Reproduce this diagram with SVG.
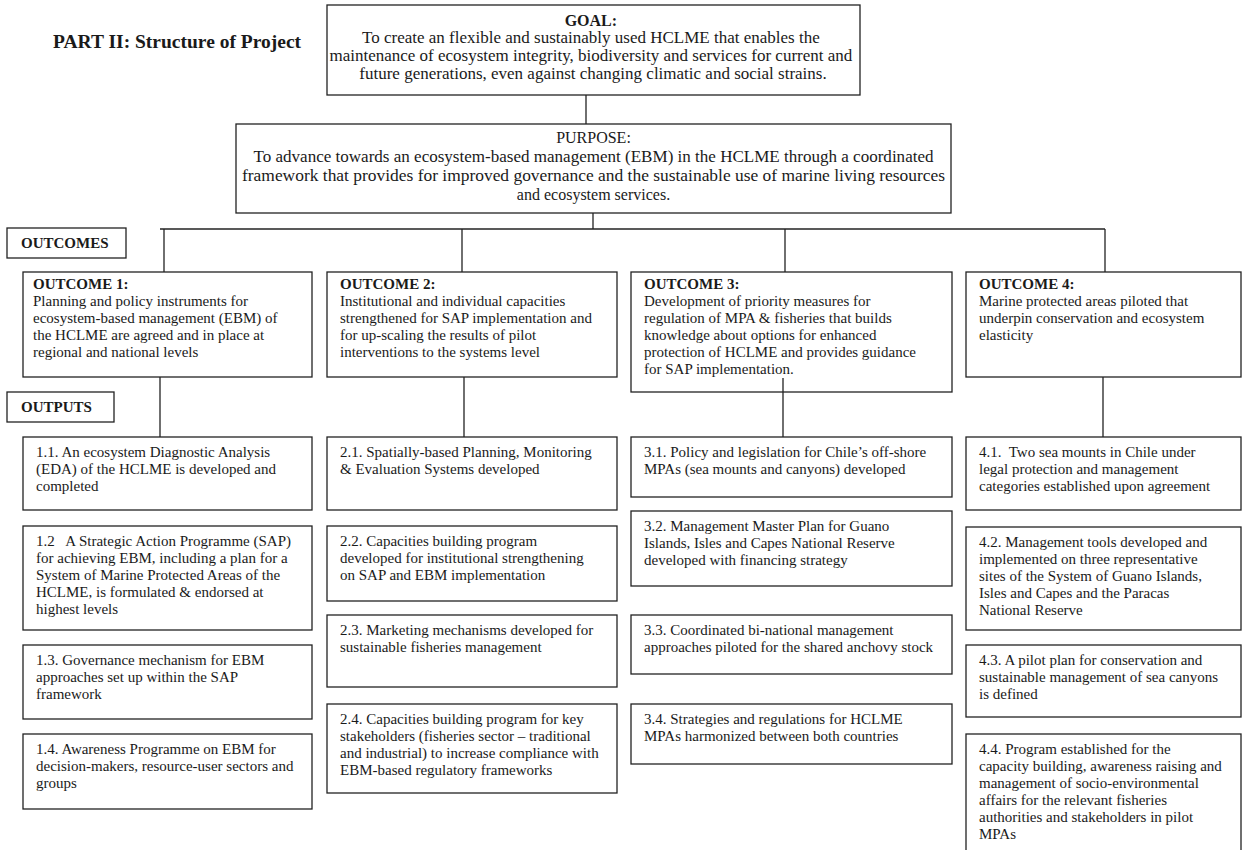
<svg xmlns="http://www.w3.org/2000/svg" width="1248" height="850" viewBox="0 0 1248 850">
<style>
  rect.box { fill: #ffffff; stroke: #222; stroke-width: 1.3; }
  .conn line { stroke: #222; stroke-width: 1.3; }
  text { font-family: "Liberation Serif", "Times New Roman", serif; fill: #1a1a1a; }
  .t { font-size: 15px; }
  .b { font-weight: bold; }
  .title { font-size: 19.5px; font-weight: bold; }
</style>
<rect width="1248" height="850" fill="#ffffff"/>

<text class="title" x="53" y="48">PART II: Structure of Project</text>

<g id="goal">
  <rect class="box" x="327" y="5" width="533" height="90"/>
  <text text-anchor="middle" font-size="17">
    <tspan class="b" x="593" y="26" font-size="16">GOAL:</tspan>
    <tspan x="593" y="43">To create an flexible and sustainably used HCLME that enables the</tspan>
    <tspan x="593" y="61">maintenance of ecosystem integrity, biodiversity and services for current and</tspan>
    <tspan x="593" y="79">future generations, even against changing climatic and social strains.</tspan>
  </text>
</g>

<g id="purpose">
  <rect class="box" x="236" y="124" width="715" height="89"/>
  <text text-anchor="middle" font-size="16">
    <tspan x="593.5" y="143">PURPOSE:</tspan>
  </text>
  <text text-anchor="middle" font-size="16" x="593.5" y="162" textLength="680" lengthAdjust="spacingAndGlyphs">To advance towards an ecosystem-based management (EBM) in the HCLME through a coordinated</text>
  <text text-anchor="middle" font-size="16" x="593.5" y="181" textLength="703" lengthAdjust="spacingAndGlyphs">framework that provides for improved governance and the sustainable use of marine living resources</text>
  <text text-anchor="middle" font-size="16" x="593.5" y="200">and ecosystem services.</text>
</g>

<g id="outcomes-label">
  <rect class="box" x="7" y="228" width="119" height="30"/>
  <text class="t b" x="21" y="248">OUTCOMES</text>
</g>

<g id="outputs-label">
  <rect class="box" x="7" y="392" width="107" height="30"/>
  <text class="t b" x="21" y="412">OUTPUTS</text>
</g>

<g id="outcome1">
  <rect class="box" x="23" y="272" width="289" height="105"/>
  <text class="t">
    <tspan class="b" x="33" y="289">OUTCOME 1:</tspan>
    <tspan x="33" y="306">Planning and policy instruments for</tspan>
    <tspan x="33" y="323">ecosystem-based management (EBM) of</tspan>
    <tspan x="33" y="340">the HCLME are agreed and in place at</tspan>
    <tspan x="33" y="357">regional and national levels</tspan>
  </text>
</g>

<g id="outcome2">
  <rect class="box" x="327" y="272" width="290" height="105"/>
  <text class="t">
    <tspan class="b" x="340" y="289">OUTCOME 2:</tspan>
    <tspan x="340" y="306">Institutional and individual capacities</tspan>
    <tspan x="340" y="323">strengthened for SAP implementation and</tspan>
    <tspan x="340" y="340">for up-scaling the results of pilot</tspan>
    <tspan x="340" y="357">interventions to the systems level</tspan>
  </text>
</g>

<g id="outcome3">
  <rect class="box" x="631" y="272" width="321" height="120"/>
  <text class="t">
    <tspan class="b" x="644" y="289">OUTCOME 3:</tspan>
    <tspan x="644" y="306">Development of priority measures for</tspan>
    <tspan x="644" y="323">regulation of MPA &amp; fisheries that builds</tspan>
    <tspan x="644" y="340">knowledge about options for enhanced</tspan>
    <tspan x="644" y="357">protection of HCLME and provides guidance</tspan>
    <tspan x="644" y="374">for SAP implementation.</tspan>
  </text>
</g>

<g id="outcome4">
  <rect class="box" x="966" y="272" width="275" height="105"/>
  <text class="t">
    <tspan class="b" x="979" y="289">OUTCOME 4:</tspan>
    <tspan x="979" y="306">Marine protected areas piloted that</tspan>
    <tspan x="979" y="323">underpin conservation and ecosystem</tspan>
    <tspan x="979" y="340">elasticity</tspan>
  </text>
</g>

<g id="output1-1">
  <rect class="box" x="23" y="437" width="289" height="73"/>
  <text class="t">
    <tspan x="36" y="457">1.1. An ecosystem Diagnostic Analysis</tspan>
    <tspan x="36" y="474">(EDA) of the HCLME is developed and</tspan>
    <tspan x="36" y="491">completed</tspan>
  </text>
</g>
<g id="output1-2">
  <rect class="box" x="23" y="526" width="289" height="104"/>
  <text class="t" xml:space="preserve"><tspan x="36" y="546">1.2   A Strategic Action Programme (SAP)</tspan><tspan x="36" y="563">for achieving EBM, including a plan for a</tspan><tspan x="36" y="580">System of Marine Protected Areas of the</tspan><tspan x="36" y="597">HCLME, is formulated &amp; endorsed at</tspan><tspan x="36" y="614">highest levels</tspan></text>
</g>
<g id="output1-3">
  <rect class="box" x="23" y="645" width="289" height="74"/>
  <text class="t">
    <tspan x="36" y="665">1.3. Governance mechanism for EBM</tspan>
    <tspan x="36" y="682">approaches set up within the SAP</tspan>
    <tspan x="36" y="699">framework</tspan>
  </text>
</g>
<g id="output1-4">
  <rect class="box" x="23" y="734" width="289" height="75"/>
  <text class="t">
    <tspan x="36" y="754">1.4. Awareness Programme on EBM for</tspan>
    <tspan x="36" y="771">decision-makers, resource-user sectors and</tspan>
    <tspan x="36" y="788">groups</tspan>
  </text>
</g>

<g id="output2-1">
  <rect class="box" x="327" y="437" width="290" height="73"/>
  <text class="t">
    <tspan x="340" y="457">2.1. Spatially-based Planning, Monitoring</tspan>
    <tspan x="340" y="474">&amp; Evaluation Systems developed</tspan>
  </text>
</g>
<g id="output2-2">
  <rect class="box" x="327" y="526" width="290" height="75"/>
  <text class="t">
    <tspan x="340" y="546">2.2. Capacities building program</tspan>
    <tspan x="340" y="563">developed for institutional strengthening</tspan>
    <tspan x="340" y="580">on SAP and EBM implementation</tspan>
  </text>
</g>
<g id="output2-3">
  <rect class="box" x="327" y="615" width="290" height="72"/>
  <text class="t">
    <tspan x="340" y="635">2.3. Marketing mechanisms developed for</tspan>
    <tspan x="340" y="652">sustainable fisheries management</tspan>
  </text>
</g>
<g id="output2-4">
  <rect class="box" x="327" y="704" width="290" height="89"/>
  <text class="t">
    <tspan x="340" y="724">2.4. Capacities building program for key</tspan>
    <tspan x="340" y="741">stakeholders (fisheries sector – traditional</tspan>
    <tspan x="340" y="758">and industrial) to increase compliance with</tspan>
    <tspan x="340" y="775">EBM-based regulatory frameworks</tspan>
  </text>
</g>

<g id="output3-1">
  <rect class="box" x="631" y="437" width="321" height="60"/>
  <text class="t">
    <tspan x="644" y="457">3.1. Policy and legislation for Chile’s off-shore</tspan>
    <tspan x="644" y="474">MPAs (sea mounts and canyons) developed</tspan>
  </text>
</g>
<g id="output3-2">
  <rect class="box" x="631" y="511" width="321" height="75"/>
  <text class="t">
    <tspan x="644" y="531">3.2. Management Master Plan for Guano</tspan>
    <tspan x="644" y="548">Islands, Isles and Capes National Reserve</tspan>
    <tspan x="644" y="565">developed with financing strategy</tspan>
  </text>
</g>
<g id="output3-3">
  <rect class="box" x="631" y="615" width="321" height="59"/>
  <text class="t">
    <tspan x="644" y="635">3.3. Coordinated bi-national management</tspan>
    <tspan x="644" y="652">approaches piloted for the shared anchovy stock</tspan>
  </text>
</g>
<g id="output3-4">
  <rect class="box" x="631" y="704" width="321" height="60"/>
  <text class="t">
    <tspan x="644" y="724">3.4. Strategies and regulations for HCLME</tspan>
    <tspan x="644" y="741">MPAs harmonized between both countries</tspan>
  </text>
</g>

<g id="output4-1">
  <rect class="box" x="966" y="437" width="275" height="73"/>
  <text class="t" xml:space="preserve"><tspan x="979" y="457">4.1.  Two sea mounts in Chile under</tspan><tspan x="979" y="474">legal protection and management</tspan><tspan x="979" y="491">categories established upon agreement</tspan></text>
</g>
<g id="output4-2">
  <rect class="box" x="966" y="527" width="275" height="103"/>
  <text class="t">
    <tspan x="979" y="547">4.2. Management tools developed and</tspan>
    <tspan x="979" y="564">implemented on three representative</tspan>
    <tspan x="979" y="581">sites of the System of Guano Islands,</tspan>
    <tspan x="979" y="598">Isles and Capes and the Paracas</tspan>
    <tspan x="979" y="615">National Reserve</tspan>
  </text>
</g>
<g id="output4-3">
  <rect class="box" x="966" y="645" width="275" height="72"/>
  <text class="t">
    <tspan x="979" y="665">4.3. A pilot plan for conservation and</tspan>
    <tspan x="979" y="682">sustainable management of sea canyons</tspan>
    <tspan x="979" y="699">is defined</tspan>
  </text>
</g>
<g id="output4-4">
  <rect class="box" x="966" y="734" width="275" height="130"/>
  <text class="t">
    <tspan x="979" y="754">4.4. Program established for the</tspan>
    <tspan x="979" y="771">capacity building, awareness raising and</tspan>
    <tspan x="979" y="788">management of socio-environmental</tspan>
    <tspan x="979" y="805">affairs for the relevant fisheries</tspan>
    <tspan x="979" y="822">authorities and stakeholders in pilot</tspan>
    <tspan x="979" y="839">MPAs</tspan>
  </text>
</g>

<g id="connectors" class="conn">
  <line x1="586" y1="95" x2="586" y2="124"/>
  <line x1="593" y1="213" x2="593" y2="229"/>
  <line x1="160" y1="229" x2="1105" y2="229"/>
  <line x1="164" y1="229" x2="164" y2="272"/>
  <line x1="462" y1="229" x2="462" y2="272"/>
  <line x1="785" y1="229" x2="785" y2="272"/>
  <line x1="1105" y1="229" x2="1105" y2="272"/>
  <line x1="160" y1="377" x2="160" y2="437"/>
  <line x1="464" y1="377" x2="464" y2="437"/>
  <line x1="783" y1="378" x2="783" y2="437"/>
  <line x1="1103" y1="377" x2="1103" y2="437"/>
</g>
</svg>
